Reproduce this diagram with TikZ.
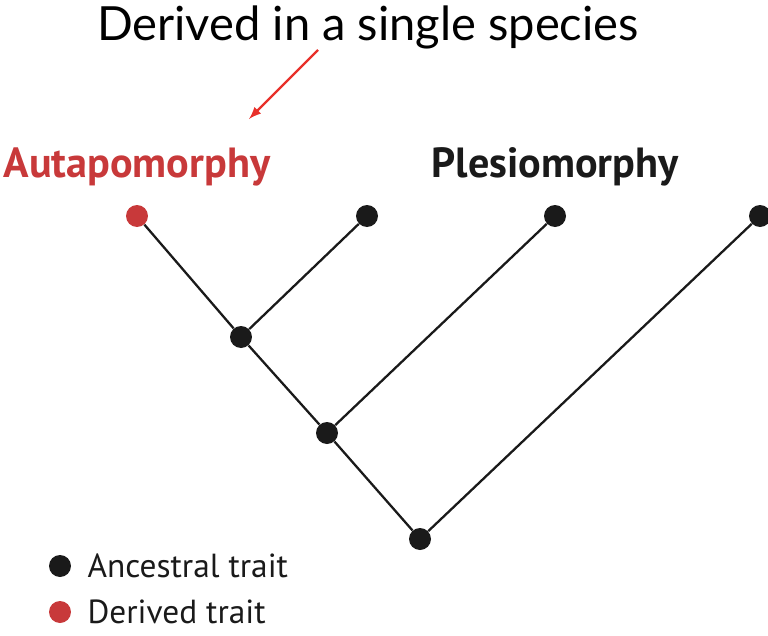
\documentclass[tikz,border=0pt]{standalone}
\usepackage{fontspec}
\setmainfont{PT Sans}
\newfontfamily\titlefont{Lato}
\usepackage{tikz}
\usetikzlibrary{shapes.geometric, arrows}
\usetikzlibrary{positioning}

\definecolor{derivedred}{HTML}{C8393A}
\definecolor{arrowred}{HTML}{E8302A}
\definecolor{dotblack}{HTML}{1A1A1A}

\tikzset{
  taxon/.style={circle, fill=dotblack, inner sep=0pt, minimum size=0.44cm},
  derived/.style={taxon, fill=derivedred},
  branch/.style={line width=1.3pt, draw=dotblack},
  traitlabel/.style={font=\bfseries\fontsize{24}{28}\selectfont},
  legendtext/.style={font=\fontsize{19}{22}\selectfont, text=dotblack, anchor=west}
}

\begin{document}
\begin{tikzpicture}[x=0.02cm, y=-0.02cm]

\useasboundingbox (0,0) rectangle (768,636);

% Title and pointer
\node (title) at (368,27) {\titlefont\fontsize{26.8}{30}\selectfont Derived in a single species};
\coordinate (arrtail) at (318,50);
\coordinate (arrhead) at (249,119);
\draw[-latex, arrowred, line width=1.4pt] (arrtail) -- (arrhead);

% Trait labels
\node[traitlabel, text=derivedred] (auta) at (137,167) {Autapomorphy};
\node[traitlabel, text=dotblack] (plesio) at (555,167) {Plesiomorphy};

% Tips
\node[derived] (t1) at (137,216) {};
\node[taxon] (t2) at (367,216) {};
\node[taxon] (t3) at (555,216) {};
\node[taxon] (t4) at (760,216) {};

% Internal nodes
\node[taxon] (n1) at (241,337) {};
\node[taxon] (n2) at (327,433) {};
\node[taxon] (n3) at (420,539) {};

% Branches
\foreach \a/\b in {t1/n1, t2/n1, n1/n2, t3/n2, n2/n3, t4/n3}
{
  \draw[branch] (\a) -- (\b);
}

% Legend
\node[taxon] (lanc) at (60,566) {};
\node[derived] (lder) at (60,612) {};
\node[legendtext, right=0.2cm of lanc] (tanc) {Ancestral trait};
\node[legendtext, right=0.2cm of lder] (tder) {Derived trait};

\end{tikzpicture}
\end{document}
